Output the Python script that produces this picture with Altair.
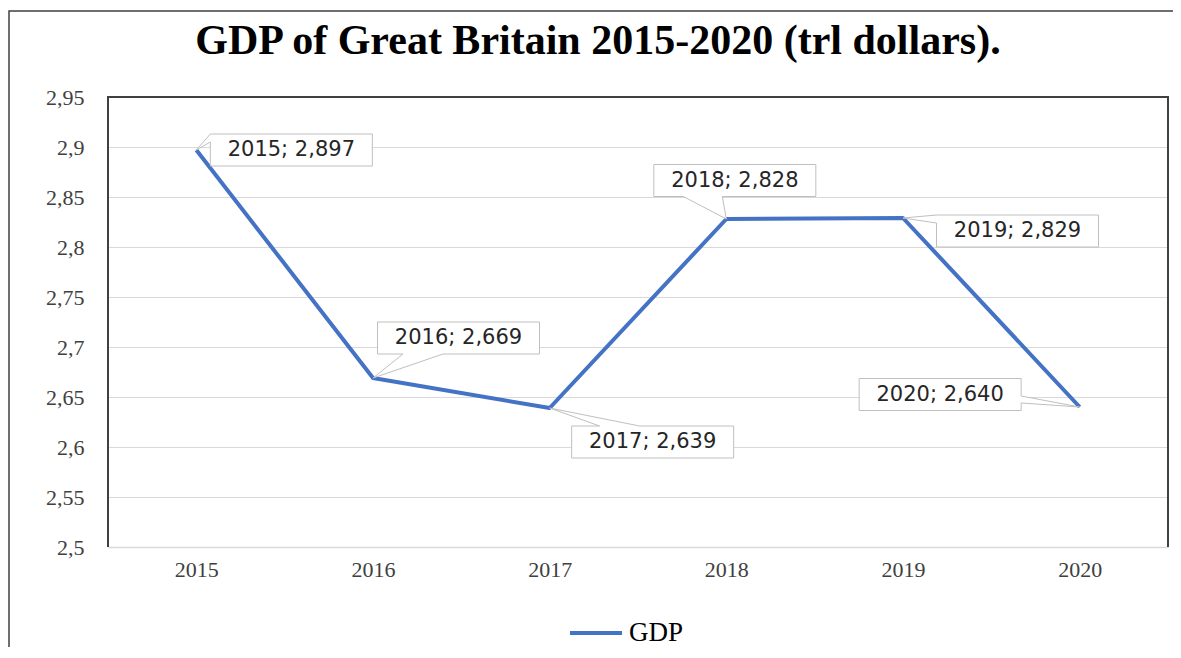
import altair as alt
import pandas as pd

# ---- data ----
years = ["2015", "2016", "2017", "2018", "2019", "2020"]
gdp = [2.897, 2.669, 2.639, 2.828, 2.829, 2.640]
series_name = "GDP"
y_ticks = [2.5, 2.55, 2.6, 2.65, 2.7, 2.75, 2.8, 2.85, 2.9, 2.95]
title_text = "GDP of Great Britain 2015-2020 (trl dollars)."

labels = [f"{y}; {v:.3f}".replace(".", ",") for y, v in zip(years, gdp)]

# ---- callout placement (pixels relative to each point): box centre, wedge side, wedge span ----
BOX_W, BOX_H = 162, 32
callouts = [
    (95, 0, "left", -16, -8),
    (85.5, -40, "bottom", 30, 70),
    (103, 34, "top", 50, 90),
    (8.5, -38.5, "bottom", -43, -4),
    (114.5, 13, "left", -3, 5),
    (-139.5, -12.5, "right", -11, -4),
]


def callout_path(cx, cy, side, a, b):
    L, R = cx - BOX_W / 2, cx + BOX_W / 2
    T, B = cy - BOX_H / 2, cy + BOX_H / 2
    pts = [(L, T)]
    if side == "top":
        pts += [(a, T), (0, 0), (b, T)]
    pts += [(R, T)]
    if side == "right":
        pts += [(R, a), (0, 0), (R, b)]
    pts += [(R, B)]
    if side == "bottom":
        pts += [(b, B), (0, 0), (a, B)]
    pts += [(L, B)]
    if side == "left":
        pts += [(L, b), (0, 0), (L, a)]
    return "M" + "L".join(f"{x:.1f},{y:.1f}" for x, y in pts) + "Z"


df = pd.DataFrame({
    "year": years,
    "gdp": gdp,
    "series": series_name,
    "label": labels,
    "callout": [callout_path(*c) for c in callouts],
})

SERIF = "Liberation Serif"

x_enc = alt.X(
    "year:O",
    scale=alt.Scale(type="point", padding=0.5),
    axis=alt.Axis(title=None, labelAngle=0, ticks=False, grid=False,
                  domainColor="#d9d9d9", domainWidth=1.5,
                  labelFont=SERIF, labelFontSize=22, labelColor="#404040",
                  labelPadding=12),
)
y_enc = alt.Y(
    "gdp:Q",
    scale=alt.Scale(domain=[2.5, 2.95], nice=False, zero=False),
    axis=alt.Axis(title=None, values=y_ticks,
                  labelExpr="replace(format(datum.value, '.2~f'), '.', ',')",
                  domain=False, ticks=False, grid=True,
                  gridColor="#d9d9d9", gridWidth=1.2,
                  labelFont=SERIF, labelFontSize=22, labelColor="#404040",
                  labelPadding=24),
)

base = alt.Chart(df)
one = pd.DataFrame({"k": [0]})
W = alt.expr("width")
H = alt.expr("height")

# plot-area frame: dark on left, top and right (bottom is the light x-axis line)
frame_left = alt.Chart(one).mark_rule(color="#404040", strokeWidth=2).encode(
    x=alt.value(0), y=alt.value(0), y2=alt.value(H))
frame_right = alt.Chart(one).mark_rule(color="#404040", strokeWidth=2).encode(
    x=alt.value(W), y=alt.value(0), y2=alt.value(H))
frame_top = alt.Chart(one).mark_rule(color="#404040", strokeWidth=2).encode(
    x=alt.value(-1), x2=alt.value(alt.expr("width + 1")), y=alt.value(0))

line = base.mark_line(strokeWidth=4, strokeJoin="round").encode(
    x=x_enc,
    y=y_enc,
    color=alt.Color(
        "series:N",
        scale=alt.Scale(range=["#4472C4"]),
        legend=alt.Legend(title=None, orient="none", legendX=460, legendY=508,
                          symbolType="stroke", symbolSize=2704, symbolStrokeWidth=4,
                          labelFont=SERIF, labelFontSize=27, labelColor="black",
                          labelOffset=5, padding=0),
    ),
)

boxes = base.mark_point(filled=True, fill="white", stroke="#bfbfbf", strokeWidth=1,
                        size=4, opacity=1).encode(
    x=alt.X("year:O"),
    y=alt.Y("gdp:Q"),
    shape=alt.Shape("callout:N", scale=None),
)

texts = []
for yr, (cx, cy, _, _, _) in zip(years, callouts):
    texts.append(
        base.transform_filter(alt.datum.year == yr)
        .mark_text(dx=cx, dy=cy, font="DejaVu Sans", fontSize=21, color="#262626",
                   align="center", baseline="middle")
        .encode(x=alt.X("year:O"), y=alt.Y("gdp:Q"), text="label:N")
    )

border = alt.Chart(one).mark_rect(
    filled=False, stroke="#404040", strokeWidth=1.5
).encode(x=alt.value(-99), x2=alt.value(1300), y=alt.value(-86), y2=alt.value(900))

chart = alt.layer(border, frame_left, frame_right, frame_top, line, boxes, *texts).properties(
    width=1060,
    height=450,
    padding={"left": 100, "top": 89, "right": 5, "bottom": 100},
    autosize=alt.AutoSizeParams(type="none"),
    background="white",
    title=alt.TitleParams(text=title_text, font=SERIF, fontSize=42, fontWeight="bold",
                          color="black", anchor="middle", dx=-40, offset=-53),
).configure_view(strokeWidth=0)

chart.save("out.html", embed_options={"renderer": "svg", "actions": False})
